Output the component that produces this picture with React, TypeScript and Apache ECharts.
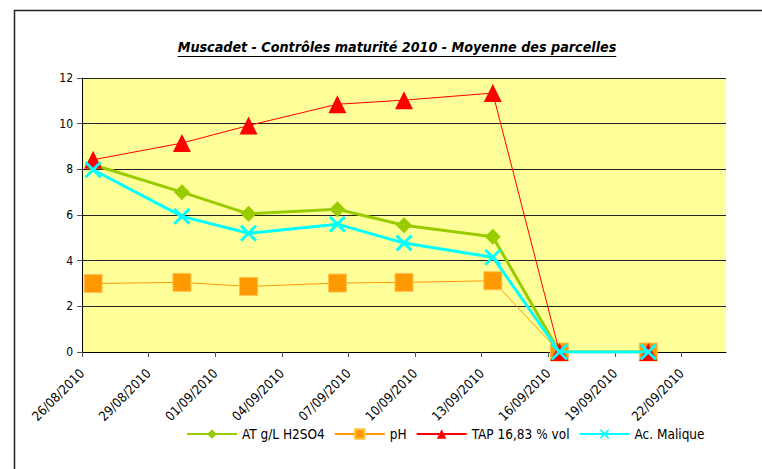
import React, { useEffect, useRef } from "react";
import * as echarts from "echarts";

// ---- data ----
const DATES = ["26/08/2010", "30/08/2010", "02/09/2010", "06/09/2010", "09/09/2010", "13/09/2010", "16/09/2010", "20/09/2010"];
const AT = [8.2, 7.0, 6.05, 6.25, 5.55, 5.05, 0, 0];
const PH = [3.0, 3.05, 2.87, 3.02, 3.05, 3.12, 0, 0];
const TAP = [8.42, 9.15, 9.92, 10.85, 11.03, 11.34, 0, 0];
const MALIQUE = [7.98, 5.94, 5.2, 5.6, 4.77, 4.15, 0, 0];
const X_TICK_LABELS = ["26/08/2010", "29/08/2010", "01/09/2010", "04/09/2010", "07/09/2010", "10/09/2010", "13/09/2010", "16/09/2010", "19/09/2010", "22/09/2010"];
const X_AXIS_END = "24/09/2010";
const Y_MIN = 0;
const Y_MAX = 12;
const Y_STEP = 2;
const SERIES_NAMES = ["AT g/L H2SO4", "pH", "TAP 16,83 % vol", "Ac. Malique"];
const TITLE = "Muscadet - Contrôles maturité 2010 - Moyenne des parcelles";

const FONT = "'DejaVu Sans Condensed', 'DejaVu Sans', sans-serif";

function toDay(s: string): number {
  const [d, m, y] = s.split("/").map(Number);
  return Date.UTC(y, m - 1, d) / 86400000;
}

const X_SYMBOL = "path://M0,1.2 L1.2,0 L5,3.8 L8.8,0 L10,1.2 L6.2,5 L10,8.8 L8.8,10 L5,6.2 L1.2,10 L0,8.8 L3.8,5 Z";

export default function App() {
  const ref = useRef<HTMLDivElement>(null);
  useEffect(() => {
    if (!ref.current) return;
    const chart = echarts.init(ref.current, null, { renderer: "svg" });
    const origin = toDay(X_TICK_LABELS[0]);
    const tickVals = X_TICK_LABELS.map((l) => toDay(l) - origin);
    const labelMap: Record<string, string> = {};
    tickVals.forEach((v, i) => (labelMap[String(v)] = X_TICK_LABELS[i]));
    const xs = DATES.map((d) => toDay(d) - origin + 0.5);
    const pairs = (vals: number[]) => vals.map((v, i) => [xs[i], v]);

    const titleFont = `italic bold 14.2px ${FONT}`;
    let titleW = 440;
    try {
      const ctx = document.createElement("canvas").getContext("2d");
      if (ctx) {
        ctx.font = titleFont;
        titleW = ctx.measureText(TITLE).width;
      }
    } catch (e) {}
    const titleCx = 397;
    const titleBase = 54;

    const grid = { left: 82, top: 78, width: 644, height: 274 };

    chart.setOption({
      animation: false,
      backgroundColor: "#ffffff",
      textStyle: { fontFamily: FONT },
      graphic: [
        {
          type: "rect",
          shape: { x: 14.5, y: 10.5, width: 900, height: 600 },
          style: { fill: "none", stroke: "#222", lineWidth: 1.5 },
          silent: true,
        },
        {
          type: "text",
          x: titleCx,
          y: titleBase,
          style: {
            text: TITLE,
            font: titleFont,
            fill: "#000",
            align: "center",
            verticalAlign: "bottom",
          },
        },
        {
          type: "line",
          shape: { x1: titleCx - titleW / 2, y1: titleBase + 2.5, x2: titleCx + titleW / 2, y2: titleBase + 2.5 },
          style: { stroke: "#000", lineWidth: 1 },
        },
      ],
      grid: { ...grid, backgroundColor: "#FFFF99", show: true, borderWidth: 0 },
      xAxis: {
        type: "value",
        min: 0,
        max: toDay(X_AXIS_END) - origin,
        splitLine: { show: false },
        axisLine: { show: true, lineStyle: { color: "#000", width: 1 } },
        axisTick: { show: true, customValues: tickVals, length: 5, lineStyle: { color: "#555" } },
        axisLabel: {
          customValues: tickVals,
          rotate: 45,
          margin: 19,
          color: "#000",
          fontSize: 13,
          fontFamily: FONT,
          formatter: (v: number) => labelMap[String(v)] ?? "",
        },
      },
      yAxis: {
        type: "value",
        min: Y_MIN,
        max: Y_MAX,
        interval: Y_STEP,
        splitLine: { show: true, lineStyle: { color: "#222", width: 1 } },
        axisLine: { show: true, lineStyle: { color: "#000", width: 1 } },
        axisTick: { show: true, inside: false, length: 5, lineStyle: { color: "#555" } },
        axisLabel: { color: "#000", fontSize: 12, fontFamily: FONT, margin: 9 },
      },
      legend: {
        left: 186,
        top: 427,
        padding: 0,
        itemWidth: 50,
        itemHeight: 12,
        itemGap: 9,
        textStyle: { fontSize: 13.5, color: "#000", fontFamily: FONT },
        data: SERIES_NAMES,
      },
      series: [
        {
          name: SERIES_NAMES[0],
          type: "line",
          data: pairs(AT),
          symbol: "diamond",
          symbolSize: 16,
          lineStyle: { color: "#99CC00", width: 3 },
          itemStyle: { color: "#99CC00" },
          z: 2,
        },
        {
          name: SERIES_NAMES[1],
          type: "line",
          data: pairs(PH),
          symbol: "rect",
          symbolSize: 18,
          lineStyle: { color: "#FF9900", width: 1 },
          itemStyle: { color: "#FF9900", borderColor: "#FFC24D", borderWidth: 1 },
          z: 3,
        },
        {
          name: SERIES_NAMES[2],
          type: "line",
          data: pairs(TAP),
          symbol: "triangle",
          symbolSize: 18,
          lineStyle: { color: "#FF0000", width: 1 },
          itemStyle: { color: "#FF0000" },
          z: 4,
        },
        {
          name: SERIES_NAMES[3],
          type: "line",
          data: pairs(MALIQUE),
          symbol: X_SYMBOL,
          symbolSize: 17,
          lineStyle: { color: "#00FFFF", width: 3 },
          itemStyle: { color: "#00FFFF" },
          z: 5,
        },
      ],
    });
    return () => chart.dispose();
  }, []);
  return (
    <div
      ref={ref}
      style={{ position: "fixed", left: 0, top: 0, width: 762, height: 469 }}
    />
  );
}
